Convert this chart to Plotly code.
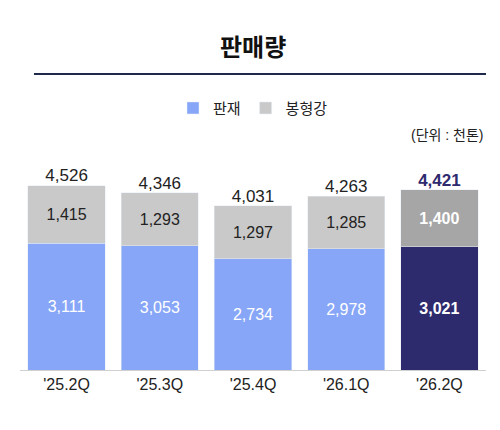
import plotly.graph_objects as go

quarters = ["'25.2Q", "'25.3Q", "'25.4Q", "'26.1Q", "'26.2Q"]
plate = [3111, 3053, 2734, 2978, 3021]
section = [1415, 1293, 1297, 1285, 1400]
totals = [p + s for p, s in zip(plate, section)]

FONT = "Liberation Sans, Noto Sans CJK KR, sans-serif"
blue = ['#87a6f7'] * 4 + ['#2e2a6e']
gray = ['#c9c9c9'] * 4 + ['#a6a6a6']
lbl2 = ['#222222'] * 4 + ['#ffffff']


def fmt(vals):
    return [f"{v:,}" if i < 4 else f"<b>{v:,}</b>" for i, v in enumerate(vals)]


fig = go.Figure()
fig.add_trace(go.Bar(x=quarters, y=plate, name='판재', marker_color=blue,
                     text=fmt(plate), textposition='inside',
                     insidetextanchor='middle',
                     textfont=dict(color='#ffffff', size=16, family=FONT)))
fig.add_trace(go.Bar(x=quarters, y=section, name='봉형강', marker_color=gray,
                     text=fmt(section), textposition='inside', insidetextanchor='middle',
                     textfont=dict(color=lbl2, size=16, family=FONT)))
fig.add_trace(go.Scatter(x=quarters, y=totals, mode='text', showlegend=False,
                         text=fmt(totals), textposition='top center',
                         textfont=dict(color=['#222222'] * 4 + ['#2e2a6e'], size=17, family=FONT)))

fig.update_layout(
    width=500, height=430, barmode='stack', bargap=0.17,
    plot_bgcolor='white', paper_bgcolor='white',
    margin=dict(l=12, r=22, t=142, b=68),
    font=dict(family=FONT, color='#222222'),
    uniformtext=dict(mode='show', minsize=10),
    legend=dict(orientation='h', x=0.5, xanchor='center', y=1.19, yanchor='middle',
                traceorder='normal', font=dict(size=15), itemwidth=30),
    xaxis=dict(showline=True, linecolor='#d0d0d0', tickfont=dict(size=16), ticks=''),
    yaxis=dict(range=[0, 5400], visible=False),
    annotations=[
        dict(text='<b>판매량</b>', x=0.5, y=1.535, xref='paper', yref='paper',
             showarrow=False, font=dict(size=24, color='#111111')),
        dict(text='(단위 : 천톤)', x=1.0, y=1.115, xref='paper', yref='paper',
             xanchor='right', showarrow=False, font=dict(size=14)),
    ],
    shapes=[dict(type='line', xref='paper', yref='paper', x0=0.03, x1=1.0,
                 y0=1.345, y1=1.345, line=dict(color='#1f2a4a', width=2))],
)

fig.write_html("out.html")
